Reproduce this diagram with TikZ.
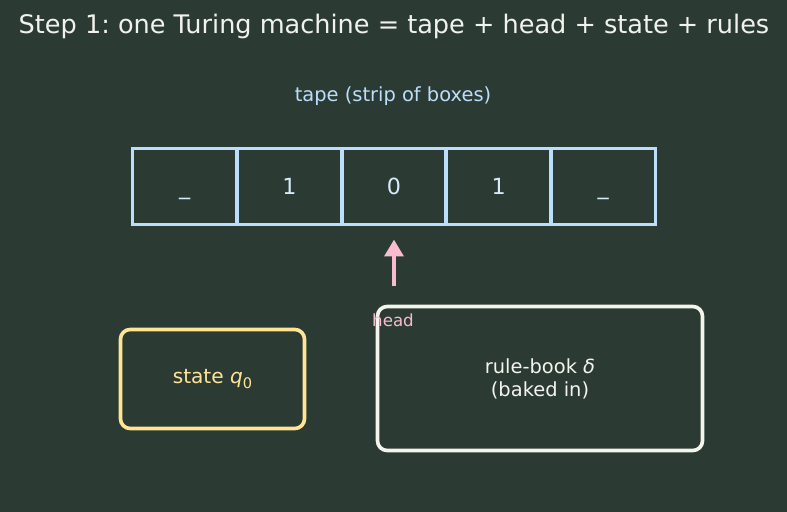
\documentclass[tikz,border=0pt]{standalone}
\usepackage{fontspec}
\setmainfont{DejaVu Sans}
\usetikzlibrary{arrows.meta}
\frenchspacing

\definecolor{board}{RGB}{43,59,52}
\definecolor{tapeblue}{RGB}{187,222,251}
\definecolor{stateyellow}{RGB}{255,228,150}
\definecolor{rulewhite}{RGB}{244,244,236}
\definecolor{headpink}{RGB}{248,187,208}
\definecolor{titlewhite}{RGB}{242,242,236}

\begin{document}
\begin{tikzpicture}[x=0.72pt,y=-0.72pt,
    cell/.style={draw=tapeblue, line width=2.8pt, minimum width=75.3pt, minimum height=54.7pt,
                 text=tapeblue!60!white, font=\fontsize{16}{19}\selectfont, text height=11.7pt, text depth=0pt},
    box/.style={rounded corners=7pt, line width=2.6pt, align=center}]
    \fill[board] (0,0) rectangle (787,512);
    \node[text=titlewhite, font=\fontsize{18.4}{22}\selectfont] (title) at (394,26.5)
        {Step 1: one Turing machine = tape + head + state + rules};
    \node[text=tapeblue, font=\fontsize{14}{17}\selectfont] (tapelabel) at (393,96.5) {tape (strip of boxes)};
    \foreach \s [count=\i] in {\_,1,0,1,\_}
        \node[cell] (c\i) at ({132.5+52.3+104.6*(\i-1)},186.5) {\s};
    \coordinate (headtail) at (394,286);
    \draw[headpink, line width=2.6pt, -{Triangle[length=12pt,width=13.5pt]}, shorten >=9.5pt] (headtail) -- (c3.south);
    \node[box, draw=stateyellow, text=stateyellow, minimum width=132.5pt, minimum height=71.3pt,
          font=\fontsize{14.5}{17}\selectfont] (state) at (212.5,379)
          {state \textit{q}\raisebox{-0.25em}{\fontsize{10.5}{12}\selectfont 0}};
    \node[box, draw=rulewhite, text=rulewhite, minimum width=234pt, minimum height=103.7pt,
          font=\fontsize{14}{16.5}\selectfont] (rules) at (540,378.5) {rule-book \textit{δ}\\(baked in)};
    \node[text=headpink, font=\fontsize{12}{14}\selectfont] (headlabel) at (393,320.5) {head};
\end{tikzpicture}
\end{document}
